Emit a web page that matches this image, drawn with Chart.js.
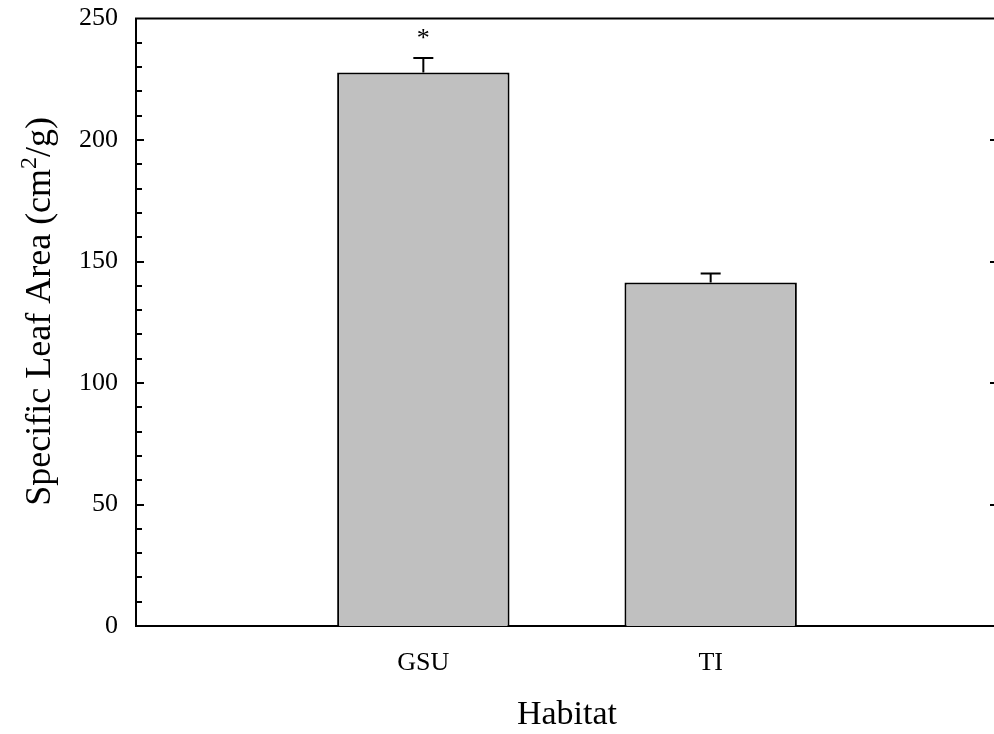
<!DOCTYPE html>
<html>
<head>
<meta charset="utf-8">
<script src="https://cdn.jsdelivr.net/npm/chart.js@4/dist/chart.umd.min.js"></script>
<style>
  html, body { margin: 0; padding: 0; background: #fff; overflow: hidden; }
  #box { width: 1020px; height: 749px; margin-top: -15px; position: relative; }
</style>
</head>
<body>
<div id="box"><canvas id="grafico"></canvas></div>
<script>
// dados
const categorias = ['', 'GSU', 'TI', ''];
const mediaSLA = [null, 227.8, 141.4, null];
const erroSLA = [null, 6.0, 3.7, null];
const marcas = ['', '*', '', ''];
const ticksY = [0, 50, 100, 150, 200, 250];
const passoMenor = 10;
const tituloY = ['Specific Leaf Area (cm', '2', '/g)'];

const fonte = 'Liberation Serif, "Times New Roman", serif';

// desenha moldura, ticks para dentro, barras de erro, asterisco e título do eixo y
const extras = {
    id: 'extras',
    afterDatasetsDraw(chart) {
        const { ctx, chartArea: a, scales: { y } } = chart;
        ctx.save();
        ctx.strokeStyle = '#000';
        ctx.lineWidth = 2;

        // linha do topo e eixo direito
        ctx.beginPath();
        ctx.moveTo(a.left - 1, a.top);
        ctx.lineTo(a.right, a.top);
        ctx.moveTo(a.right, a.top);
        ctx.lineTo(a.right, a.bottom);
        ctx.stroke();

        // ticks menores e maiores (esquerda) + maiores (direita)
        const maxY = ticksY[ticksY.length - 1];
        for (let v = passoMenor; v < maxY; v += passoMenor) {
            const py = Math.round(y.getPixelForValue(v));
            const maior = ticksY.includes(v);
            ctx.beginPath();
            ctx.moveTo(a.left, py);
            ctx.lineTo(a.left + (maior ? 8 : 6), py);
            if (maior) {
                ctx.moveTo(a.right, py);
                ctx.lineTo(a.right - 8, py);
            }
            ctx.stroke();
        }

        // barras de erro
        const meta = chart.getDatasetMeta(0);
        meta.data.forEach((bar, i) => {
            if (mediaSLA[i] == null) return;
            const x = bar.x;
            const yTopo = y.getPixelForValue(mediaSLA[i] + erroSLA[i]);
            const yMedia = y.getPixelForValue(mediaSLA[i]);
            ctx.beginPath();
            ctx.moveTo(x, yMedia);
            ctx.lineTo(x, yTopo);
            ctx.moveTo(x - 10, yTopo);
            ctx.lineTo(x + 10, yTopo);
            ctx.stroke();

            if (marcas[i]) {
                ctx.fillStyle = '#000';
                ctx.font = '26px ' + fonte;
                ctx.textAlign = 'center';
                ctx.textBaseline = 'alphabetic';
                ctx.fillText(marcas[i], x, yTopo - 12);
            }
        });

        // título do eixo y com expoente de verdade
        const fGrande = '36px ' + fonte;
        const fPequena = '24px ' + fonte;
        ctx.font = fGrande;
        const w0 = ctx.measureText(tituloY[0]).width;
        const w2 = ctx.measureText(tituloY[2]).width;
        ctx.font = fPequena;
        const w1 = ctx.measureText(tituloY[1]).width;
        const total = w0 + w1 + w2;
        const centro = (a.top + a.bottom) / 2 - 11;
        ctx.translate(50, centro);
        ctx.rotate(-Math.PI / 2);
        ctx.fillStyle = '#000';
        ctx.textAlign = 'left';
        ctx.textBaseline = 'alphabetic';
        let px = -total / 2;
        ctx.font = fGrande;
        ctx.fillText(tituloY[0], px, 0);
        px += w0;
        ctx.font = fPequena;
        ctx.fillText(tituloY[1], px, -14);
        px += w1;
        ctx.font = fGrande;
        ctx.fillText(tituloY[2], px, 0);
        ctx.restore();
    }
};

new Chart(document.getElementById('grafico'), {
    type: 'bar',
    data: {
        labels: categorias,
        datasets: [{
            label: 'Specific Leaf Area',
            data: mediaSLA,
            backgroundColor: '#c0c0c0',
            borderColor: '#000',
            borderWidth: 2,
            borderSkipped: 'bottom',
            categoryPercentage: 1,
            barPercentage: 0.6
        }]
    },
    options: {
        responsive: true,
        maintainAspectRatio: false,
        animation: false,
        layout: { padding: { top: 2, right: 2, left: 0, bottom: 0 } },
        plugins: {
            legend: { display: false },
            tooltip: { enabled: false }
        },
        scales: {
            x: {
                type: 'category',
                offset: false,
                grid: { display: false, drawTicks: false },
                border: { display: true, color: '#000', width: 2 },
                ticks: {
                    color: '#000',
                    font: { family: fonte, size: 26 },
                    padding: 22,
                    autoSkip: false,
                    maxRotation: 0
                },
                title: {
                    display: true,
                    text: 'Habitat',
                    color: '#000',
                    font: { family: fonte, size: 34 },
                    padding: { top: 0, bottom: -1 }
                },
                afterFit(scale) { scale.height = 108; }
            },
            y: {
                min: 0,
                max: 250,
                grid: { display: false, drawTicks: false },
                border: { display: true, color: '#000', width: 2 },
                afterBuildTicks(scale) {
                    scale.ticks = ticksY.map(v => ({ value: v }));
                },
                ticks: {
                    color: '#000',
                    font: { family: fonte, size: 26 },
                    padding: 18
                },
                title: { display: false },
                afterFit(scale) { scale.width = 136; }
            }
        }
    },
    plugins: [extras]
});
</script>
</body>
</html>
